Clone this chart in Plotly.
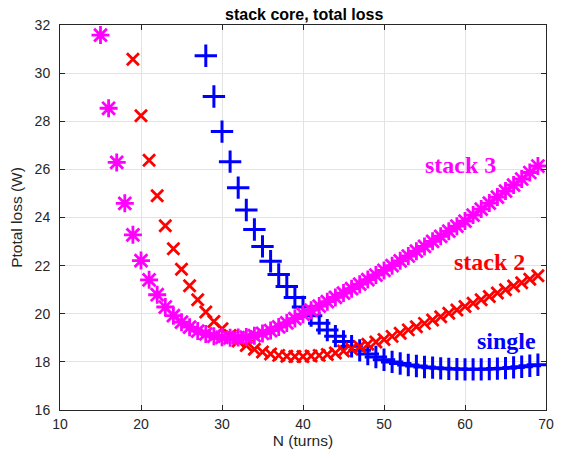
import plotly.graph_objects as go

# Turn counts for each winding arrangement
n_single = list(range(28, 70))
n_stack2 = list(range(19, 70))
n_stack3 = list(range(15, 70))

# Total loss (W)
loss_single = [30.72, 29.03, 27.57, 26.32, 25.24, 24.31, 23.50, 22.80, 22.18, 21.63,
               21.13, 20.68, 20.28, 19.92, 19.60, 19.32, 19.07, 18.85, 18.65, 18.48,
               18.33, 18.20, 18.09, 18.00, 17.93, 17.87, 17.83, 17.79, 17.76, 17.73,
               17.71, 17.70, 17.69, 17.69, 17.69, 17.70, 17.72, 17.74, 17.77, 17.80,
               17.84, 17.88]
loss_stack2 = [30.58, 28.23, 26.38, 24.90, 23.66, 22.70, 21.85, 21.16, 20.58, 20.07,
               19.68, 19.38, 19.10, 18.87, 18.68, 18.52, 18.41, 18.33, 18.27, 18.23,
               18.22, 18.22, 18.24, 18.27, 18.31, 18.37, 18.45, 18.54, 18.63, 18.73,
               18.83, 18.93, 19.06, 19.19, 19.33, 19.46, 19.60, 19.74, 19.88, 20.02,
               20.16, 20.30, 20.44, 20.58, 20.72, 20.86, 21.00, 21.15, 21.29, 21.43,
               21.58]
loss_stack3 = [31.58, 28.54, 26.29, 24.59, 23.28, 22.21, 21.41, 20.79, 20.28, 19.92,
               19.65, 19.44, 19.28, 19.16, 19.07, 19.02, 19.00, 19.01, 19.03, 19.09,
               19.18, 19.30, 19.45, 19.62, 19.80, 19.98, 20.15, 20.32, 20.50, 20.68,
               20.86, 21.04, 21.23, 21.42, 21.61, 21.80, 22.00, 22.20, 22.40, 22.60,
               22.80, 23.01, 23.22, 23.43, 23.64, 23.85, 24.10, 24.35, 24.60, 24.85,
               25.10, 25.35, 25.60, 25.87, 26.14]

x_ticks = [10, 20, 30, 40, 50, 60, 70]
y_ticks = [16, 18, 20, 22, 24, 26, 28, 30, 32]

BLUE = "#0000FF"
RED = "#FF0000"
MAGENTA = "#FF00FF"
SANS = "Liberation Sans, Arial, sans-serif"
SERIF = "Liberation Serif, Times New Roman, serif"

fig = go.Figure()
fig.add_trace(go.Scatter(
    x=n_single, y=loss_single, mode="markers", name="single",
    marker=dict(symbol="cross-thin", size=16, color=BLUE,
                line=dict(color=BLUE, width=3))))
fig.add_trace(go.Scatter(
    x=n_stack2, y=loss_stack2, mode="markers", name="stack 2",
    marker=dict(symbol="x-thin", size=12, color=RED,
                line=dict(color=RED, width=2.8))))
fig.add_trace(go.Scatter(
    x=n_stack3, y=loss_stack3, mode="markers", name="stack 3",
    marker=dict(symbol="asterisk", size=15, color=MAGENTA,
                line=dict(color=MAGENTA, width=2.8))))

for txt, xx, yy, col in [("stack 3", 59.5, 26.18, MAGENTA),
                         ("stack 2", 63.0, 22.17, RED),
                         ("single", 65.1, 18.85, BLUE)]:
    fig.add_annotation(x=xx, y=yy, text=f"<b>{txt}</b>", showarrow=False,
                       font=dict(family=SERIF, size=24, color=col),
                       xanchor="center", yanchor="middle")

axis_common = dict(
    showgrid=True, gridcolor="#e3e3e3", gridwidth=1,
    showline=True, linecolor="#262626", linewidth=1,
    mirror="ticks", ticks="inside", ticklen=5, tickcolor="#262626",
    zeroline=False,
    tickfont=dict(family=SANS, size=14, color="#262626"),
)

fig.update_layout(
    width=566, height=460,
    margin=dict(l=60, r=17, t=25, b=50),
    paper_bgcolor="white", plot_bgcolor="white",
    showlegend=False,
    title=dict(text="<b>stack core, total loss</b>", x=0.5375, xanchor="center",
               y=0.968, yanchor="middle",
               font=dict(family=SANS, size=16, color="black")),
    xaxis=dict(range=[10, 70], tickvals=x_ticks, ticklabelstandoff=1,
               title=dict(text="N (turns)", standoff=4,
                          font=dict(family=SANS, size=15.5, color="#262626")),
               **axis_common),
    yaxis=dict(range=[16, 32], tickvals=y_ticks, ticklabelstandoff=6,
               title=dict(text="Ptotal loss (W)", standoff=8,
                          font=dict(family=SANS, size=15.5, color="#262626")),
               **axis_common),
)

fig.write_html("out.html")
